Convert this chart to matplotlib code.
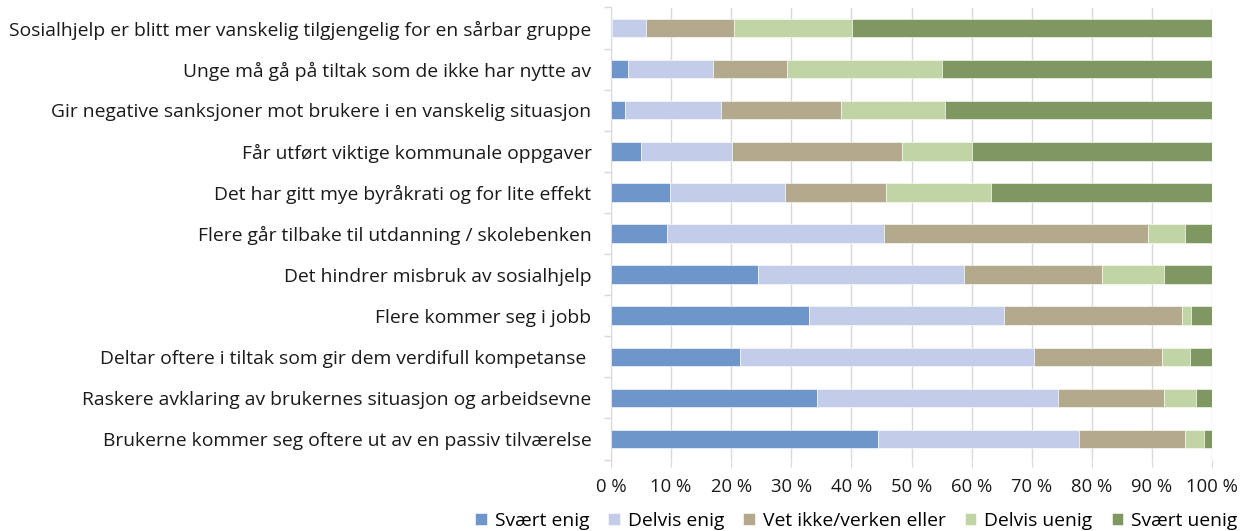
import matplotlib
matplotlib.use("Agg")
import matplotlib.pyplot as plt
import numpy as np

plt.rcParams['font.family'] = ['Open Sans', 'DejaVu Sans']

categories = [
    "Sosialhjelp er blitt mer vanskelig tilgjengelig for en sårbar gruppe",
    "Unge må gå på tiltak som de ikke har nytte av",
    "Gir negative sanksjoner mot brukere i en vanskelig situasjon",
    "Får utført viktige kommunale oppgaver",
    "Det har gitt mye byråkrati og for lite effekt",
    "Flere går tilbake til utdanning / skolebenken",
    "Det hindrer misbruk av sosialhjelp",
    "Flere kommer seg i jobb",
    "Deltar oftere i tiltak som gir dem verdifull kompetanse ",
    "Raskere avklaring av brukernes situasjon og arbeidsevne",
    "Brukerne kommer seg oftere ut av en passiv tilværelse",
]
series_names = ["Svært enig", "Delvis enig", "Vet ikke/verken eller", "Delvis uenig", "Svært uenig"]
svaert_enig  = [0.2, 2.8, 2.3, 5.0, 9.8, 9.3, 24.5, 33.0, 21.4, 34.3, 44.4]
delvis_enig  = [5.7, 14.2, 16.0, 15.1, 19.1, 36.1, 34.3, 32.4, 48.9, 40.0, 33.4]
vet_ikke     = [14.6, 12.3, 20.0, 28.3, 16.8, 43.9, 22.9, 29.6, 21.3, 17.7, 17.7]
delvis_uenig = [19.6, 25.8, 17.3, 11.7, 17.5, 6.2, 10.3, 1.5, 4.8, 5.3, 3.2]
svaert_uenig = [59.9, 44.9, 44.4, 39.9, 36.8, 4.5, 8.0, 3.5, 3.6, 2.7, 1.3]
colors = ["#6E96CB", "#C3CCE9", "#B3A98C", "#C0D4A5", "#7F9862"]
xticks = [0, 10, 20, 30, 40, 50, 60, 70, 80, 90, 100]
xticklabels = [f"{v} %" for v in xticks]

FS = 13.9

fig = plt.figure(figsize=(12.47, 5.31), dpi=100)
ax = fig.add_axes([611/1247, 1-459.5/531, (1212-611)/1247, (459.5-7.5)/531])

y = np.arange(len(categories))
left = np.zeros(len(categories))
for name, vals, c in zip(series_names,
                         [svaert_enig, delvis_enig, vet_ikke, delvis_uenig, svaert_uenig],
                         colors):
    vals = np.array(vals)
    ax.barh(y, vals, left=left, height=0.45, color=c, label=name,
            edgecolor='white', linewidth=0.4, zorder=3)
    left += vals

ax.set_ylim(len(categories) - 0.5, -0.5)
ax.set_xlim(0, 100)
ax.set_yticks(y)
ax.set_yticklabels(categories, fontsize=FS, color='#1a1a1a')
ax.set_yticks(np.arange(len(categories) + 1) - 0.5, minor=True)
ax.tick_params(axis='y', which='major', length=0, pad=14)
ax.tick_params(axis='y', which='minor', length=5, color='#d9d9d9', width=1)
ax.set_xticks(xticks)
ax.set_xticklabels(xticklabels, fontsize=13.3, color='#1a1a1a')
ax.tick_params(axis='x', length=5, color='#d9d9d9', pad=8)
ax.grid(axis='x', color='#d9d9d9', linewidth=1, zorder=0)
for s in ['top', 'right', 'bottom']:
    ax.spines[s].set_visible(False)
ax.spines['left'].set_color('#d9d9d9')

handles, labels = ax.get_legend_handles_labels()
fig.legend(handles, labels, loc='lower right', bbox_to_anchor=(1.006, -0.03), ncol=5,
           frameon=False, fontsize=FS, handlelength=0.6, handleheight=0.6,
           handletextpad=0.4, columnspacing=1.0)

fig.savefig("out.png", dpi=100)
